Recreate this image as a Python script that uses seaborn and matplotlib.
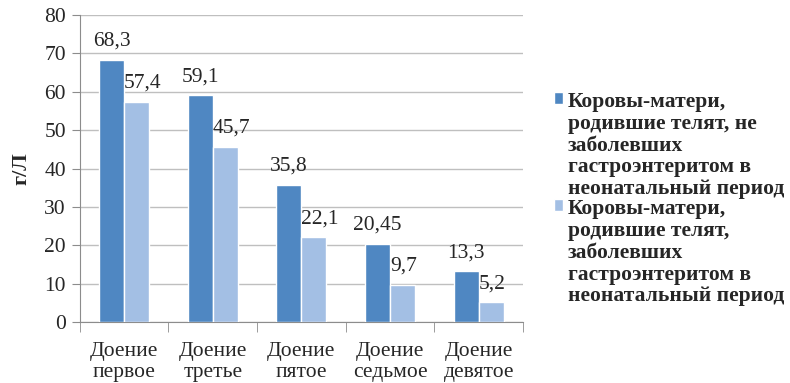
import numpy as np
import pandas as pd
import seaborn as sns
import matplotlib.pyplot as plt

# ---- данные ----
milkings = ['Доение\nпервое', 'Доение\nтретье', 'Доение\nпятое', 'Доение\nседьмое', 'Доение\nдевятое']
healthy = [68.3, 59.1, 35.8, 20.45, 13.3]
sick = [57.4, 45.7, 22.1, 9.7, 5.2]
series_names = ['Коровы-матери,\nродившие телят, не\nзаболевших\nгастроэнтеритом в\nнеонатальный период',
                'Коровы-матери,\nродившие телят,\nзаболевших\nгастроэнтеритом в\nнеонатальный период']
colors = ['#4F87C2', '#A3BFE4']

df = pd.DataFrame({
    'milking': milkings * 2,
    'value': healthy + sick,
    'group': [series_names[0]] * 5 + [series_names[1]] * 5,
})

sns.set_style('white')
plt.rcParams['font.family'] = ['Liberation Serif', 'DejaVu Serif']

fig = plt.figure(figsize=(7.9, 3.83), dpi=100)
ax = fig.add_axes([0.101, 0.159, 0.561, 0.802])

sns.barplot(data=df, x='milking', y='value', hue='group', palette=colors,
            width=0.565, saturation=1, ax=ax, zorder=3, legend=True)

ax.set_ylim(0, 80)
ax.set_yticks(np.arange(0, 81, 10))
ax.set_xlim(-0.5, 4.5)
ax.yaxis.grid(True, color='#BFBFBF', lw=1, zorder=0)
ax.set_axisbelow(True)
for s in ['top', 'right']:
    ax.spines[s].set_visible(False)
for s in ['left', 'bottom']:
    ax.spines[s].set_color('#8C8C8C')
ax.tick_params(axis='y', left=True, length=6, color='#8C8C8C', pad=4, labelsize=15.5)
ax.tick_params(axis='x', which='major', length=0, pad=14, labelsize=15.5)
ax.set_xticks(np.arange(-0.5, 5, 1), minor=True)
ax.tick_params(axis='x', which='minor', bottom=True, length=7, color='#8C8C8C')
ax.set_xlabel('')
ax.set_ylabel('г/Л', fontsize=16, fontweight='bold', labelpad=9)

# подписи значений
for i, cont in enumerate(ax.containers[:2]):
    vals = healthy if i == 0 else sick
    for bar, v in zip(cont, vals):
        txt = str(v).replace('.', ',')
        if i == 0:
            ax.annotate(txt, (bar.get_x() + bar.get_width() / 2, bar.get_height()),
                        xytext=(0, 10), textcoords='offset points',
                        ha='center', va='baseline', fontsize=15.5)
        else:
            ax.annotate(txt, (bar.get_x(), bar.get_height()),
                        xytext=(0, 10), textcoords='offset points',
                        ha='left', va='baseline', fontsize=15.5)

leg = ax.legend(loc='center left', bbox_to_anchor=(1.05, 0.40), frameon=False,
                prop={'weight': 'bold', 'size': 15.5}, handlelength=0.45, handleheight=0.45,
                handletextpad=0.2, labelspacing=0.0, borderaxespad=0)
for t in leg.get_texts():
    t.set_linespacing(1.12)
# маркер легенды на уровне первой строки
for row in leg._legend_handle_box.get_children()[0].get_children():
    row.align = 'top'

fig.savefig('out.png', dpi=100)
